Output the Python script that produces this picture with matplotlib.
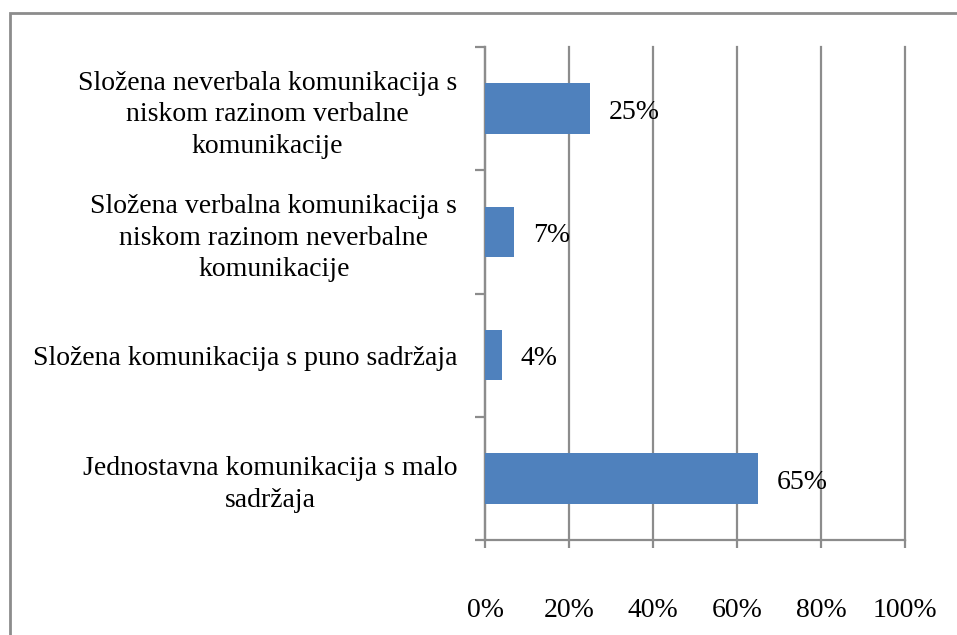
import matplotlib.pyplot as plt
from matplotlib.patches import Rectangle
from matplotlib.ticker import PercentFormatter

categories = [
    "Složena neverbala komunikacija s\nniskom razinom verbalne\nkomunikacije",
    "Složena verbalna komunikacija s\nniskom razinom neverbalne\nkomunikacije",
    "Složena komunikacija s puno sadržaja",
    "Jednostavna komunikacija s malo\nsadržaja",
]
values = [25, 7, 4, 65]
x_ticks = [0, 20, 40, 60, 80, 100]

plt.rcParams['font.family'] = ['Liberation Serif', 'DejaVu Serif']

fig = plt.figure(figsize=(9.57, 6.35), dpi=100)
ax = fig.add_axes([485 / 957, 1 - 540 / 635, 420 / 957, 493 / 635])

ypos = list(range(len(categories)))
ax.barh(ypos, values, height=0.41, color='#4f81bd', zorder=3)
for y, v in zip(ypos, values):
    ax.text(v + 4.5, y + 0.03, f"{v}%", va='center', ha='left', fontsize=20)

ax.set_ylim(len(categories) - 0.5, -0.5)
ax.set_xlim(0, 100)
ax.set_xticks(x_ticks)
ax.xaxis.set_major_formatter(PercentFormatter(decimals=0))
ax.set_yticks(ypos)
ax.set_yticklabels(categories, fontsize=20, multialignment='center',
                   linespacing=1.33)
ax.set_yticks([i - 0.5 for i in range(len(categories) + 1)], minor=True)

ax.grid(axis='x', color='#8c8c8c', linewidth=1.6, zorder=0)
for gl in ax.xaxis.get_gridlines():
    gl.set_clip_on(False)
for side in ('top', 'right'):
    ax.spines[side].set_visible(False)
for side in ('left', 'bottom'):
    ax.spines[side].set_color('#8c8c8c')
    ax.spines[side].set_linewidth(1.6)

ax.tick_params(axis='y', which='major', length=0, pad=20)
ax.tick_params(axis='y', which='minor', length=7, width=1.6, color='#8c8c8c')
ax.tick_params(axis='x', length=6, width=1.6, color='#8c8c8c',
               labelsize=20, pad=36)

fig.patches.append(Rectangle((10 / 957, -0.1), 1.2, 1 - 13 / 635 + 0.1,
                             transform=fig.transFigure, fill=False,
                             edgecolor='#8c8c8c', linewidth=2))

fig.savefig('out.png', dpi=100)
